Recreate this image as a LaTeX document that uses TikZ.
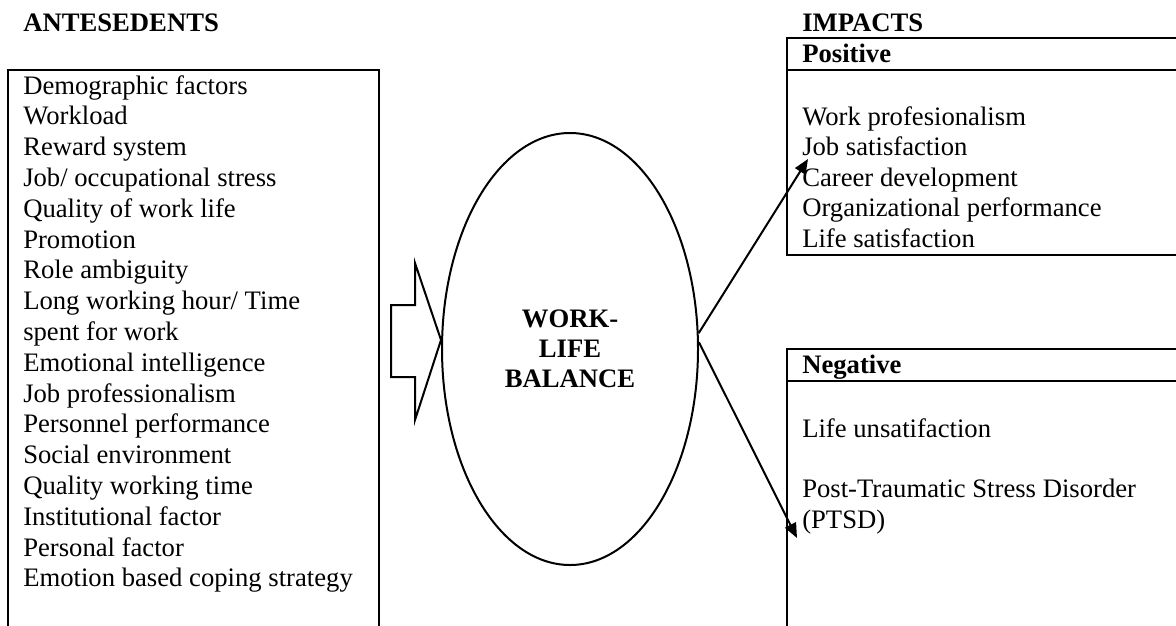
\documentclass[tikz,border=0pt]{standalone}
\usepackage{fontspec}
\setmainfont{Liberation Serif}
\usetikzlibrary{arrows.meta,shapes.geometric}
\begin{document}
\begin{tikzpicture}[x=0.75pt,y=-0.75pt,
  txt/.style={anchor=base west, inner sep=0pt, font=\fontsize{20}{23}\selectfont},
  hd/.style={anchor=base west, inner sep=0pt, font=\fontsize{20}{23}\selectfont\bfseries},
  frame/.style={line width=1.5pt},
  conn/.style={line width=1.5pt, -{Triangle[length=11pt,width=9pt]}}]
\useasboundingbox (0,0) rectangle (1176,625);
% headings
\node[hd] (ant) at (23,31) {ANTESEDENTS};
\node[hd] (imp) at (802,31) {IMPACTS};
% antecedents box
\draw[frame] (8,640) -- (8,70) -- (379,70) -- (379,640);
\foreach \t [count=\i from 0] in {Demographic factors, Workload, Reward system,
  Job/ occupational stress, Quality of work life, Promotion, Role ambiguity,
  Long working hour/ Time, spent for work, Emotional intelligence,
  Job professionalism, Personnel performance, Social environment,
  Quality working time, Institutional factor, Personal factor,
  Emotion based coping strategy}
  \node[txt] (a\i) at (23,94+30.8*\i) {\t};
% block arrow
\draw[frame] (391,305) -- (415,305) -- (415,263) -- (441,340) -- (415,420)
  -- (415,377) -- (391,377) -- cycle;
% ellipse
\node[draw, ellipse, line width=1.5pt, inner sep=0pt, minimum width=192pt,
  minimum height=324pt, align=center,
  font=\fontsize{20}{22.5}\selectfont\bfseries] (wlb) at (570,349)
  {WORK-\\LIFE\\BALANCE};
% positive box
\draw[frame] (1190,38) -- (787,38) -- (787,255) -- (1190,255);
\draw[frame] (787,70) -- (1190,70);
\node[hd] (pos) at (802,62) {Positive};
\foreach \t [count=\j from 0] in {Work profesionalism, Job satisfaction,
  Career development, Organizational performance, Life satisfaction}
  \node[txt] (p\j) at (802,125+30.6*\j) {\t};
% negative box
\draw[frame] (1190,349) -- (787,349) -- (787,640);
\draw[frame] (787,381) -- (1190,381);
\node[hd] (neg) at (802,373) {Negative};
\node[txt] (n1) at (802,437) {Life unsatifaction};
\node[txt] (n2) at (802,497) {Post-Traumatic Stress Disorder};
\node[txt] (n3) at (802,528) {(PTSD)};
% connectors
\coordinate (pe) at (808,159);
\coordinate (ne) at (797,538);
\draw[conn] (wlb.7.5) -- (pe);
\draw[conn] (wlb.3.5) -- (ne);
\end{tikzpicture}
\end{document}
